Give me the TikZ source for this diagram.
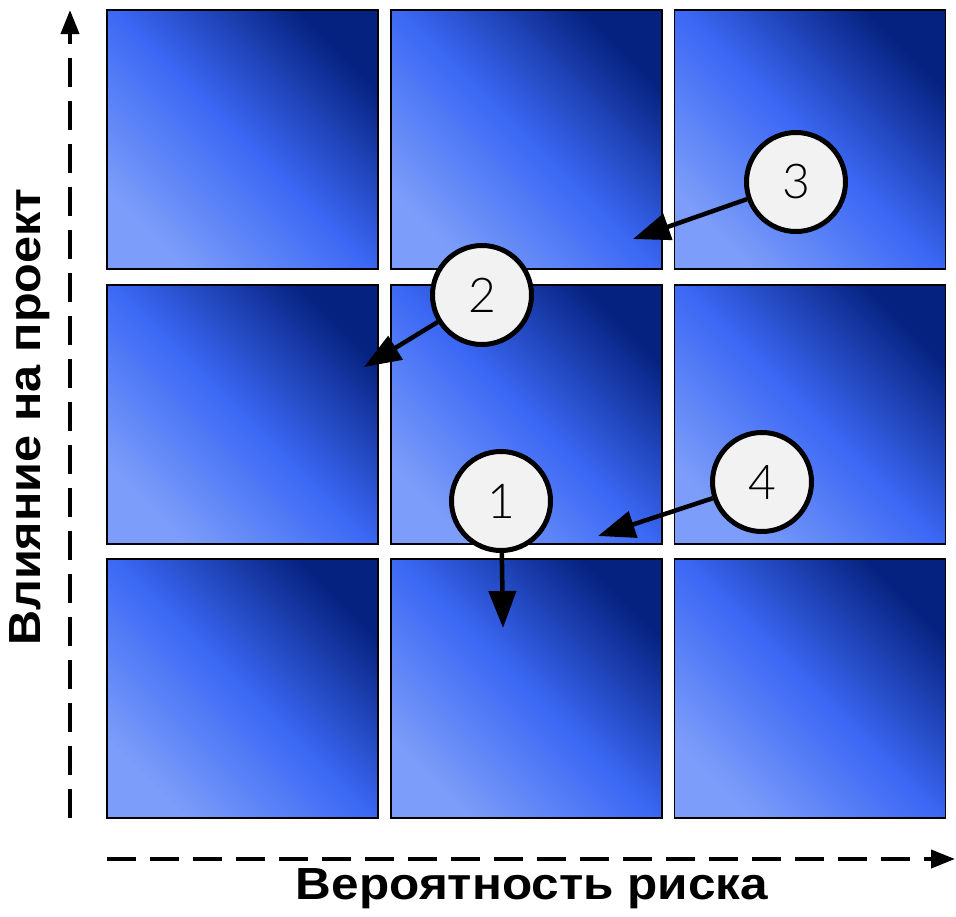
\documentclass[tikz,border=0pt]{standalone}
\usepackage{fontspec}
\setmainfont{Liberation Sans}
\newfontfamily\digitfont{Lato Light}
\usetikzlibrary{arrows.meta,shadings}
\definecolor{cLow}{HTML}{7C9DF9}
\definecolor{cMid}{HTML}{3B68F5}
\definecolor{cHigh}{HTML}{062280}
\definecolor{cCirc}{HTML}{F2F2F2}
\tikzset{
  cell/.style={rectangle, draw=black, line width=1.5pt, inner sep=0pt,
    minimum width=271pt, minimum height=259pt,
    top color=cHigh, bottom color=cLow, middle color=cMid, shading angle=-45},
  marker/.style={circle, draw=black, line width=5pt, fill=cCirc, minimum size=99pt,
    inner sep=0pt, font=\digitfont\fontsize{48}{48}\selectfont},
  pointer/.style={line width=4.5pt, -{Triangle[length=37pt,width=27pt]}},
  axisline/.style={line width=4pt, dash pattern=on 29pt off 14pt, -{Triangle[length=24pt,width=18pt]}},
  axislabel/.style={font=\fontsize{45}{45}\selectfont\bfseries, inner sep=0pt}
}
\begin{document}
\begin{tikzpicture}[x=1pt,y=-1pt]
\useasboundingbox (0,0) rectangle (956,916);
% grid of cells
\foreach \r/\y in {1/139.5,2/414.5,3/688.5}{
  \foreach \c/\x in {1/242.5,2/526.5,3/810}{
    \node[cell] (sq-\r-\c) at (\x,\y) {};
  }
}
% axes
\coordinate (yb) at (70,818);
\coordinate (yt) at (70,10);
\coordinate (xl) at (107,859);
\coordinate (xr) at (955,859);
\draw[axisline] (yb) -- (yt);
\draw[axisline] (xl) -- (xr);
\node[axislabel, rotate=90] (ylab) at (30,417) {\scalebox{1.08}[1]{Влияние на проект}};
\node[axislabel] (xlab) at (532,889) {\scalebox{1.10}[1]{Вероятность риска}};
% markers
\node[marker] (c1) at (501,501) {1};
\node[marker] (c2) at (482,295) {2};
\node[marker] (c3) at (796,182) {3};
\node[marker] (c4) at (762,482) {4};
\coordinate (t1) at (503,628);
\coordinate (t2) at (364,367);
\coordinate (t3) at (633,239);
\coordinate (t4) at (598,536);
\draw[pointer] (c1) -- (t1);
\draw[pointer] (c2) -- (t2);
\draw[pointer] (c3) -- (t3);
\draw[pointer] (c4) -- (t4);
\end{tikzpicture}
\end{document}
